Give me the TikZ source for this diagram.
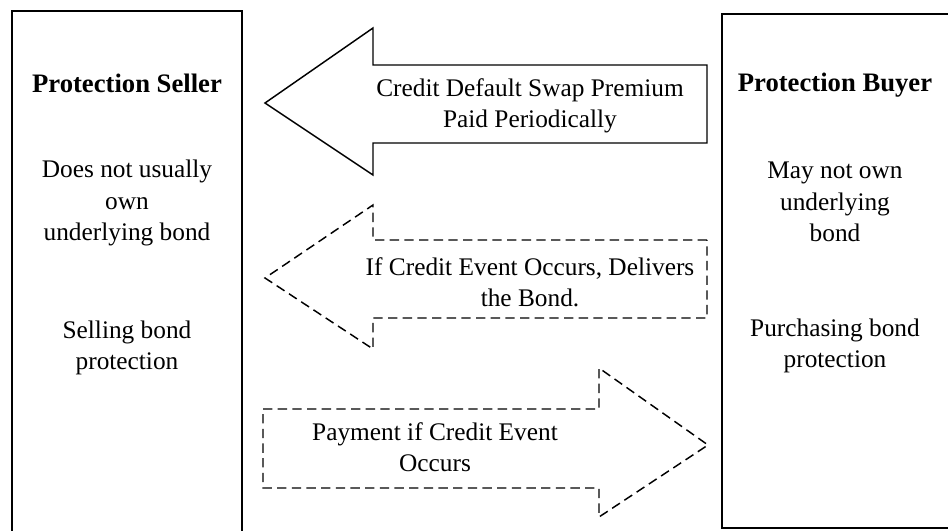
\documentclass[tikz,border=0pt]{standalone}
\usepackage{fontspec}
\setmainfont{Liberation Serif}
\begin{document}
\begin{tikzpicture}[x=0.75pt,y=-0.75pt,
  party/.style={draw,line width=1.1pt,minimum width=230*0.75pt,inner sep=0pt},
  txt/.style={align=center,font=\fontsize{19}{23.5}\selectfont,inner sep=0pt},
  head/.style={align=center,font=\fontsize{20}{23.5}\selectfont\bfseries,inner sep=0pt},
  solidarrow/.style={draw,line width=1.1pt,line join=miter},
  dasharrow/.style={draw,line width=1.1pt,dash pattern=on 7pt off 4pt}]
\clip (0,0) rectangle (948,531);
% party boxes
\node[party,minimum height=529*0.75pt] (seller) at (127,275.5) {};
\node[party,minimum width=236*0.75pt,minimum height=514*0.75pt] (buyer) at (840,271) {};
% arrows
\draw[solidarrow] (707,65) -- (373,65) -- (373,28) -- (265,103) -- (373,175) -- (373,143) -- (707,143) -- cycle;
\draw[dasharrow] (707,240) -- (373,240) -- (373,205) -- (265,278) -- (373,349) -- (373,318) -- (707,318) -- cycle;
\draw[dasharrow] (263,409) -- (599,409) -- (599,368) -- (708,445) -- (599,517) -- (599,488) -- (263,488) -- cycle;
% texts
\node[head] (sellerT) at (127,83) {Protection Seller};
\node[txt] (sellerA) at (127,203) {Does not usually\\own\\underlying bond};
\node[txt] (sellerB) at (127,348) {Selling bond\\protection};
\node[head] (buyerT) at (835,85) {Protection Buyer};
\node[txt] (buyerA) at (835,202) {May not own\\underlying\\bond};
\node[txt] (buyerB) at (835,346) {Purchasing bond\\protection};
\node[txt] (prem) at (530,106) {Credit Default Swap Premium\\Paid Periodically};
\node[txt] (deliv) at (530,282) {If Credit Event Occurs, Delivers\\the Bond.};
\node[txt] (pay) at (435,447) {Payment if Credit Event\\Occurs};
\end{tikzpicture}
\end{document}
